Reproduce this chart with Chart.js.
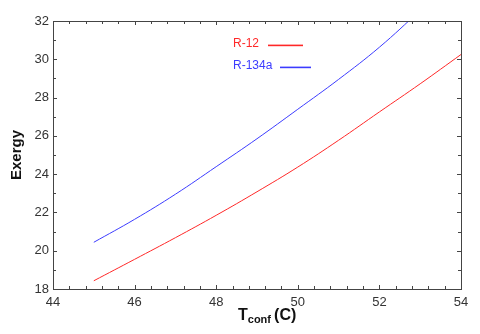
<!DOCTYPE html>
<html>
<head>
<meta charset="utf-8">
<script src="https://cdn.jsdelivr.net/npm/chart.js@4"></script>
<style>
  html, body { margin: 0; padding: 0; background: #fff; }
  #wrap { width: 480px; height: 334px; }
</style>
</head>
<body>
<div id="wrap"><canvas id="exergyChart" width="480" height="334"></canvas></div>
<script>
// Condenser temperature (C)
const tempC = [45, 46, 47, 48, 49, 50, 51, 52, 53];
// Exergy values
const r12Exergy = [18.43, 19.55, 20.68, 21.85, 23.08, 24.37, 25.77, 27.25, 28.72];
const r134aExergy = [20.44, 21.64, 22.95, 24.39, 25.85, 27.39, 28.95, 30.63, 32.55];
// R-12 continues to the right edge
const r12Tail = { x: 54, y: 30.25 };

const xTicks = [44, 46, 48, 50, 52, 54];
const yTicks = [18, 20, 22, 24, 26, 28, 30, 32];

const RED = 'rgb(255, 40, 40)';
const BLUE = 'rgb(60, 60, 255)';

function toPoints(xs, ys) {
    return xs.map((x, i) => ({ x: x, y: ys[i] }));
}

// frame, inward ticks, axis titles and the in-plot legend
const framePlugin = {
    id: 'frame',
    afterDraw(chart) {
        const ctx = chart.ctx;
        const a = chart.chartArea;
        const xs = chart.scales.x;
        const ys = chart.scales.y;
        ctx.save();
        ctx.strokeStyle = '#444';
        ctx.lineWidth = 1;
        ctx.strokeRect(a.left + 0.5, a.top + 0.5, a.right - a.left, a.bottom - a.top);

        ctx.beginPath();
        for (let v = 44; v <= 54.001; v += 0.4) {
            const px = Math.round(xs.getPixelForValue(v)) + 0.5;
            const major = Math.abs(v - Math.round(v / 2) * 2) < 0.01;
            const len = major ? 4 : 3;
            ctx.moveTo(px, a.bottom);
            ctx.lineTo(px, a.bottom - len);
            ctx.moveTo(px, a.top);
            ctx.lineTo(px, a.top + len);
        }
        for (let v = 18; v <= 32; v += 1) {
            const py = Math.round(ys.getPixelForValue(v)) + 0.5;
            const len = v % 2 === 0 ? 4 : 3;
            ctx.moveTo(a.left, py);
            ctx.lineTo(a.left + len, py);
            ctx.moveTo(a.right, py);
            ctx.lineTo(a.right - len, py);
        }
        ctx.stroke();

        // y title
        ctx.fillStyle = '#111';
        ctx.font = 'bold 15px "Liberation Sans", Arial, sans-serif';
        ctx.textAlign = 'center';
        ctx.textBaseline = 'middle';
        ctx.save();
        ctx.translate(17, (a.top + a.bottom) / 2);
        ctx.rotate(-Math.PI / 2);
        ctx.fillText('Exergy', 0, 0);
        ctx.restore();

        // x title with subscript
        ctx.textAlign = 'left';
        ctx.textBaseline = 'alphabetic';
        let tx = 238;
        const base = 320;
        ctx.font = 'bold 16px "Liberation Sans", Arial, sans-serif';
        ctx.fillText('T', tx, base);
        tx += ctx.measureText('T').width;
        ctx.font = 'bold 11px "Liberation Sans", Arial, sans-serif';
        ctx.fillText('conf', tx, base + 3);
        tx += ctx.measureText('conf ').width;
        ctx.font = 'bold 16px "Liberation Sans", Arial, sans-serif';
        ctx.fillText('(C)', tx, base);

        // legend
        ctx.font = '12px "Liberation Sans", Arial, sans-serif';
        ctx.textBaseline = 'middle';
        const legend = [
            { label: 'R-12', color: RED, y: 44, x0: 268, x1: 303 },
            { label: 'R-134a', color: BLUE, y: 66, x0: 280, x1: 311 }
        ];
        legend.forEach(item => {
            ctx.fillStyle = item.color;
            ctx.fillText(item.label, 233, item.y);
            ctx.fillRect(item.x0, item.y + 0.6, item.x1 - item.x0, 1.6);
        });
        ctx.restore();
    }
};

const ctx = document.getElementById('exergyChart').getContext('2d');
new Chart(ctx, {
    type: 'line',
    data: {
        datasets: [{
            label: 'R-12',
            data: toPoints(tempC, r12Exergy).concat([r12Tail]),
            borderColor: RED,
            borderWidth: 1,
            pointRadius: 0,
            tension: 0.4,
            fill: false
        }, {
            label: 'R-134a',
            data: toPoints(tempC, r134aExergy),
            borderColor: BLUE,
            borderWidth: 1,
            pointRadius: 0,
            tension: 0.4,
            fill: false
        }]
    },
    options: {
        responsive: false,
        animation: false,
        layout: { padding: { top: 21, right: 19, left: 0, bottom: 0 } },
        plugins: {
            legend: { display: false },
            tooltip: { enabled: false }
        },
        scales: {
            x: {
                type: 'linear',
                min: 44,
                max: 54,
                afterFit(scale) { scale.height = 45; },
                afterBuildTicks(scale) { scale.ticks = xTicks.map(v => ({ value: v })); },
                grid: { display: false, drawTicks: false },
                border: { display: false },
                ticks: {
                    padding: 6,
                    color: '#333',
                    font: { family: '"Liberation Sans", Arial, sans-serif', size: 13 }
                }
            },
            y: {
                type: 'linear',
                min: 18,
                max: 32,
                afterFit(scale) { scale.width = 53; },
                afterBuildTicks(scale) { scale.ticks = yTicks.map(v => ({ value: v })); },
                grid: { display: false, drawTicks: false },
                border: { display: false },
                ticks: {
                    padding: 4,
                    color: '#333',
                    font: { family: '"Liberation Sans", Arial, sans-serif', size: 13 }
                }
            }
        }
    },
    plugins: [framePlugin]
});
</script>
</body>
</html>
